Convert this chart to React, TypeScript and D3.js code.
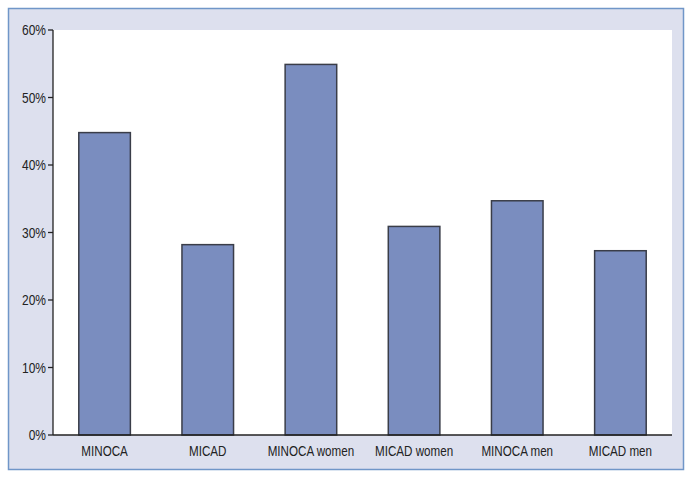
import React from "react";
import * as d3 from "d3";

const categories = ["MINOCA", "MICAD", "MINOCA women", "MICAD women", "MINOCA men", "MICAD men"];
const values = [44.8, 28.2, 54.9, 30.9, 34.7, 27.3];
const yTicks = [0, 10, 20, 30, 40, 50, 60];

// the original uses a condensed face; squeeze Liberation Sans horizontally
const squeezeY = 0.8;
const squeezeX = 0.75;

export default function App() {
  const width = 693;
  const height = 479;
  const margin = { top: 30, right: 21, bottom: 44, left: 53 };
  const innerW = width - margin.left - margin.right;
  const innerH = height - margin.top - margin.bottom;

  const x = d3.scaleBand().domain(categories).range([0, innerW]).paddingInner(0.5).paddingOuter(0.25);
  const y = d3.scaleLinear().domain([0, 60]).range([innerH, 0]);

  const font = "'Liberation Sans', Arial, sans-serif";

  return (
    <svg width={width} height={height} style={{ position: "absolute", left: 0, top: 0 }}>
      <rect x={8.5} y={8.5} width={675} height={461} fill="#dde0ee" stroke="#7096c8" strokeWidth={1.5} />
      <g transform={`translate(${margin.left},${margin.top})`}>
        <rect x={0} y={0} width={innerW} height={innerH} fill="#ffffff" />
        {categories.map((c, i) => (
          <rect
            key={c}
            x={x(c)}
            y={y(values[i])}
            width={x.bandwidth()}
            height={innerH - y(values[i])}
            fill="#7a8dbf"
            stroke="#3a3d48"
            strokeWidth={1.5}
          />
        ))}
        <line x1={0} x2={0} y1={0} y2={innerH} stroke="#222" strokeWidth={1.3} />
        <line x1={0} x2={innerW} y1={innerH} y2={innerH} stroke="#222" strokeWidth={1.3} />
        {yTicks.map((t) => (
          <g key={t} transform={`translate(0,${y(t)})`}>
            <line x1={-5} x2={0} stroke="#222" strokeWidth={1.3} />
            <text
              transform={`translate(-7,0) scale(${squeezeY},1)`}
              dy="0.35em"
              textAnchor="end"
              fontFamily={font}
              fontSize={15}
              fill="#222"
            >
              {t}%
            </text>
          </g>
        ))}
        {categories.map((c) => (
          <text
            key={c}
            transform={`translate(${(x(c) ?? 0) + x.bandwidth() / 2},${innerH + 20.5}) scale(${squeezeX},1)`}
            textAnchor="middle"
            fontFamily={font}
            fontSize={15.5}
            fill="#222"
          >
            {c}
          </text>
        ))}
      </g>
    </svg>
  );
}
